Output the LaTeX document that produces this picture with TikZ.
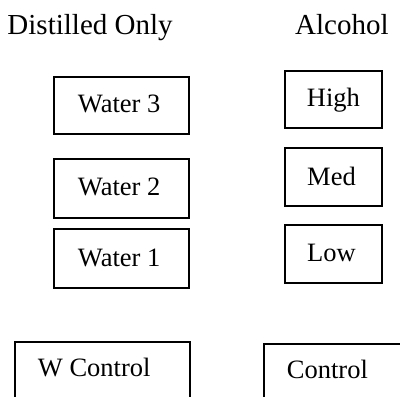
\documentclass[tikz,border=0pt]{standalone}
\usepackage{fontspec}
\setmainfont{Liberation Serif}
\begin{document}
\begin{tikzpicture}[x=1pt,y=-1pt,
  box/.style={draw=black, line width=1.8pt, inner sep=0pt, fill=none},
  lbl/.style={inner sep=0pt, anchor=base west, font=\fontsize{26.5}{30}\selectfont},
  head/.style={inner sep=0pt, anchor=base west, font=\fontsize{29}{33}\selectfont}]
\useasboundingbox (0,0) rectangle (400,397);
\clip (0,0) rectangle (400,397);
% headings
\node[head] (hd) at (7.3,34) {Distilled Only};
\node[head] (ha) at (295,34.3) {Alcohol};
% left column boxes
\node[box, minimum width=135pt, minimum height=57.6pt] (w3) at (121.8,105.5) {};
\node[box, minimum width=135pt, minimum height=59pt] (w2) at (121.8,188.5) {};
\node[box, minimum width=135pt, minimum height=59pt] (w1) at (121.8,258.5) {};
\node[lbl] (tw3) at (77.7,112.3) {Water 3};
\node[lbl] (tw2) at (77.7,195) {Water 2};
\node[lbl] (tw1) at (77.7,266.7) {Water 1};
% right column boxes
\node[box, minimum width=97.3pt, minimum height=57.3pt] (hi) at (333.7,99.7) {};
\node[box, minimum width=97.3pt, minimum height=58pt] (me) at (333.7,177) {};
\node[box, minimum width=97.3pt, minimum height=58pt] (lo) at (333.7,254) {};
\node[lbl] (thi) at (306.7,106.7) {High};
\node[lbl] (tme) at (307,185) {Med};
\node[lbl] (tlo) at (307,261.7) {Low};
% control boxes (cut by the picture edge)
\node[box, minimum width=175pt, minimum height=80pt] (wc) at (102.5,381.7) {};
\node[box, minimum width=160pt, minimum height=80pt] (c) at (344.3,384) {};
\node[lbl] (twc) at (37.7,376.7) {W Control};
\node[lbl] (tc) at (286.7,378.3) {Control};
\end{tikzpicture}
\end{document}
